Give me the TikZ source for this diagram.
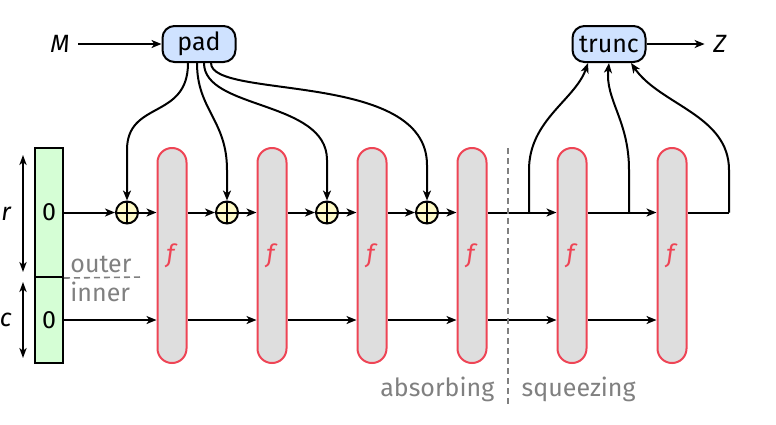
\documentclass[tikz,border=0pt]{standalone}
\usepackage{fontspec}
\setmainfont{Fira Sans}
\usetikzlibrary{arrows.meta}
\definecolor{padblue}{RGB}{207,226,255}
\definecolor{initgreen}{RGB}{213,254,213}
\definecolor{xoryellow}{RGB}{255,251,200}
\definecolor{fgray}{RGB}{222,222,222}
\definecolor{fred}{RGB}{238,68,85}
\definecolor{lblgray}{RGB}{128,128,128}
\tikzset{
  arr/.style={-{Stealth[length=5pt,width=4pt,inset=1.4pt]}, line width=1pt},
  dblarr/.style={{Stealth[length=5pt,width=3.6pt,inset=1.4pt]}-{Stealth[length=5pt,width=3.6pt,inset=1.4pt]}, line width=1pt},
  fbox/.style={draw=fred, fill=fgray, line width=1pt, minimum width=14.5pt,
    minimum height=107.5pt, rounded corners=7.2pt, inner sep=0pt, text=fred},
  procbox/.style={draw, fill=padblue, line width=1pt, rounded corners=6pt,
    minimum width=36.5pt, minimum height=18pt, inner sep=1pt},
  initbox/.style={draw, fill=initgreen, line width=1pt, minimum width=14pt, inner sep=0pt},
  xorc/.style={circle, draw, fill=xoryellow, line width=1pt, minimum size=11pt, inner sep=0pt,
    path picture={\draw[line width=1pt] (path picture bounding box.north) -- (path picture bounding box.south)
      (path picture bounding box.west) -- (path picture bounding box.east);}},
  lbl/.style={text=lblgray},
  sep/.style={lblgray, line width=0.8pt, dash pattern=on 3pt off 2pt},
}
\begin{document}
\fontsize{12.5}{15}\selectfont
\begin{tikzpicture}[x=0.5pt,y=-0.5pt]
  \useasboundingbox (0,0) rectangle (776,424);
  % message and output
  \node (M) at (60,44) {\textit{M}};
  \node[procbox] (pad) at (199,44) {pad};
  \node[procbox] (tr) at (609,44) {trunc};
  \node (Z) at (720,44) {\textit{Z}};
  \draw[arr] (M) -- (pad);
  \draw[arr] (tr) -- (Z);

  % initial state
  \node[initbox, minimum height=64.5pt] (i1) at (49,212.5) {0};
  \node[initbox, minimum height=43pt] (i2) at (49,320) {0};
  \coordinate (rt) at (23,155);
  \coordinate (rb) at (23,272);
  \coordinate (ct) at (23,282);
  \coordinate (cb) at (23,358);
  \draw[dblarr] (rb) -- node[left=1pt]{\textit{r}} (rt);
  \draw[dblarr] (ct) -- node[left=1pt]{\textit{c}} (cb);
  \coordinate (sepR) at (143,277);
  \draw[sep] (i1.south east) -- (sepR);
  \node[lbl, anchor=south west, inner sep=1pt] (outer) at (68,275) {outer};
  \node[lbl, anchor=north west, inner sep=1pt] (inner) at (68,280) {inner};

  % rounds
  \foreach \i in {1,...,4} {\node[xorc] (x\i) at (27+100*\i,212.5) {};}
  \foreach \i in {1,...,6} {\node[fbox] (f\i) at (72+100*\i,255.5) {\textit{f}};}
  \coordinate (o1) at (529,212.5);
  \coordinate (o2) at (629,212.5);
  \coordinate (o3) at (729,212.5);

  % outer part
  \draw[arr] (i1) -- (x1);
  \foreach \i in {1,...,4} {\draw[arr] (x\i) -- (x\i -| f\i.west);}
  \foreach \i [count=\j from 2] in {1,2,3} {\draw[arr] (f\i.east |- x\j) -- (x\j);}
  \draw[arr] (f4.east |- x4) -- (f5.west |- x4);
  \draw[arr] (f5.east |- x4) -- (f6.west |- x4);
  \draw[line width=1pt] (f6.east |- x4) -- (o3);

  % inner part
  \draw[arr] (i2) -- (i2 -| f1.west);
  \foreach \i [count=\j from 2] in {1,...,5} {\draw[arr] (f\i.east |- i2) -- (f\j.west |- i2);}

  % padded blocks
  \draw[arr] ([xshift=-5.5pt]pad.south) .. controls (188,120) and (127,100) .. (127,150) -- (x1);
  \draw[arr] ([xshift=-1pt]pad.south) .. controls (197,110) and (227,120) .. (227,170) -- (x2);
  \draw[arr] ([xshift=2.5pt]pad.south) .. controls (204,110) and (327,100) .. (327,160) -- (x3);
  \draw[arr] ([xshift=6pt]pad.south) .. controls (211,100) and (427,70) .. (427,165) -- (x4);

  % squeezed blocks
  \draw[arr] (o1) -- (529,170) .. controls (529,120) and (575,100) .. ([xshift=-10.5pt]tr.south);
  \draw[arr] (o2) -- (629,170) .. controls (629,120) and (605,100) .. (tr.south);
  \draw[arr] (o3) -- (729,170) .. controls (729,115) and (660,105) .. ([xshift=11pt]tr.south);

  % phases
  \coordinate (ph1) at (508,148);
  \coordinate (ph2) at (508,405);
  \draw[sep] (ph1) -- (ph2);
  \node[lbl, anchor=east] (absorb) at (503,389) {absorbing};
  \node[lbl, anchor=west] (squeeze) at (513,389) {squeezing};
\end{tikzpicture}
\end{document}
